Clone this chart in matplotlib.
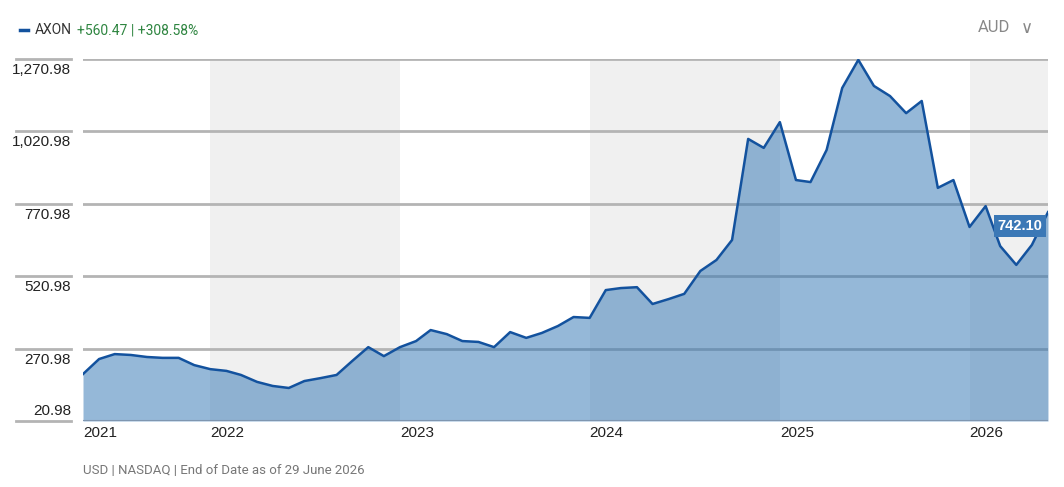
import matplotlib
matplotlib.use("Agg")
import matplotlib.pyplot as plt
import numpy as np
import pandas as pd

dates = pd.date_range("2021-05-01", periods=62, freq="MS")
values = [183,235,252,249,242,239,239,214,200,194,180,156,142,135,159,169,180,228,276,245,
          276,297,335,321,297,294,276,328,308,325,349,380,377,473,480,483,425,442,460,539,
          577,646,995,964,1053,853,846,957,1171,1268,1178,1143,1084,1126,826,853,691,763,625,560,
          629,742.10]
yticks = [20.98, 270.98, 520.98, 770.98, 1020.98, 1270.98]
years = [2021, 2022, 2023, 2024, 2025, 2026]
shaded_years = [2022, 2024, 2026]

plt.rcParams['font.family'] = ['Liberation Sans', 'DejaVu Sans']
fig = plt.figure(figsize=(10.64, 4.87), dpi=100)
ax = fig.add_axes([83/1064, 1-421/487, (1048-83)/1064, (421-59)/487])
x = matplotlib.dates.date2num(dates)
xmin, xmax = x[0], x[-1]
ax.set_xlim(xmin, xmax)
ax.set_ylim(yticks[0], yticks[-1])

for yr in shaded_years:
    s = matplotlib.dates.date2num(pd.Timestamp(f"{yr}-01-01"))
    e = matplotlib.dates.date2num(pd.Timestamp(f"{yr+1}-01-01"))
    ax.axvspan(s, min(e, xmax), color='#f0f0f0', lw=0, zorder=0)

for i, t in enumerate(yticks):
    ax.axhline(t, color='#b4b4b4', lw=2, zorder=1)
    ypx = 421 - (t - 20.98) / 1250 * 362
    fig.add_artist(plt.Line2D([16/1064, 71/1064], [1-ypx/487]*2, color='#b4b4b4', lw=2))
    off = -10 if i == 0 else 11
    fig.text(71/1064, 1-(ypx+off)/487, f"{t:,.2f}", ha='right', va='center', fontsize=11, color='#222222')

ax.fill_between(x, yticks[0], values, color=(45/255, 115/255, 179/255), alpha=0.5, lw=0, zorder=2)
ax.plot(x, values, color='#13529e', lw=1.8, zorder=3)
ax.axhline(yticks[0], color='#7f96b0', lw=1.5, zorder=4)

ax.annotate(f"{values[-1]:.2f}", xy=(x[-1], values[-1]), xytext=(-4, -10), textcoords='offset points',
            ha='right', va='center', fontsize=10.5, color='white', fontweight='bold',
            bbox=dict(boxstyle='square,pad=0.25', fc='#3b78b6', ec='none'), zorder=5)

ax.set_yticks([])
ax.set_xticks([])
for sp in ax.spines.values():
    sp.set_visible(False)
for yr in years:
    xp = matplotlib.dates.date2num(pd.Timestamp(f"{yr}-01-01"))
    xp = max(xp, xmin)
    ax.text(xp, -0.015, str(yr), transform=ax.get_xaxis_transform(), ha='left', va='top',
            fontsize=11, color='#222222')

fig.add_artist(plt.Line2D([20/1064, 28/1064], [1-30/487]*2, color='#13529e', lw=2.5))
fig.text(35/1064, 1-30/487, "AXON", fontsize=10, color='#333333', va='center', family='Roboto')
fig.text(77/1064, 1-30/487, "+560.47 | +308.58%", fontsize=10, color='#2e8540', va='center', family='Roboto')
fig.text(1010/1064, 1-28/487, "AUD", fontsize=12, color='#888888', va='center', ha='right', family='Roboto')
fig.text(1027/1064, 1-28/487, "∨", fontsize=12, color='#888888', va='center', ha='center', family='DejaVu Sans')
fig.text(83/1064, 1-470/487, "USD | NASDAQ | End of Date as of 29 June 2026", fontsize=9.5, color='#777777',
         va='center', family='Roboto')

fig.savefig("out.png", dpi=100)
